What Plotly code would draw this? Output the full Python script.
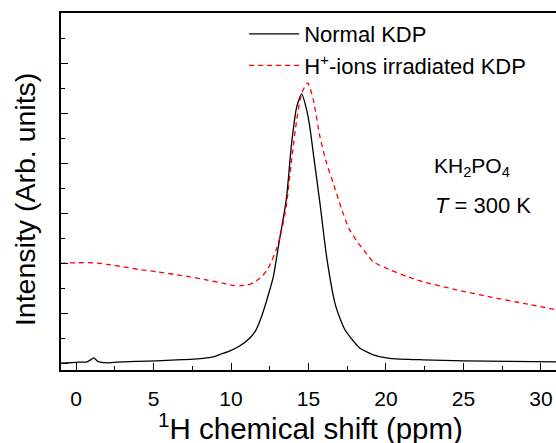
import plotly.graph_objects as go

# Normal KDP (black solid)
x_normal = [-1.0, 0.0, 0.7, 1.0, 1.15, 1.4, 2.0, 3.0, 4.0, 5.2, 6.5, 7.35, 8.2, 8.86, 9.3, 9.94,
            10.58, 11.2, 11.6, 11.87, 12.2, 12.5, 12.73, 12.95, 13.16, 13.4, 13.59, 13.91, 14.24,
            14.56, 14.88, 15.1, 15.31, 15.74, 16.17, 16.71, 17.03, 17.35, 17.68, 18.1, 18.32,
            19.18, 20.26, 22.4, 25.0, 28.0, 31.0]
y_normal = [0.0, 0.02, 0.03, 0.08, 0.11, 0.04, 0.01, 0.03, 0.04, 0.05, 0.07, 0.08, 0.10, 0.13, 0.18, 0.25,
            0.35, 0.5, 0.66, 0.85, 1.15, 1.47, 1.73, 2.13, 2.53, 2.95, 3.33, 4.4, 5.13,
            5.39, 5.07, 4.7, 4.2, 3.2, 2.13, 1.2, 0.9, 0.67, 0.53, 0.37, 0.30,
            0.17, 0.10, 0.07, 0.05, 0.04, 0.03]

# H+-ions irradiated KDP (red dashed)
x_irr = [-0.97, 0.0, 1.12, 2.0, 3.05, 4.0, 5.2, 6.3, 7.35, 8.4, 9.5, 10.1, 10.58, 11.1, 11.5, 12.0,
         12.4, 12.95, 13.3, 13.59, 13.91, 14.24, 14.56, 14.95, 15.31, 15.74, 16.17, 16.6, 17.1,
         17.6, 18.1, 18.6, 19.18, 20.26, 21.3, 22.4, 24.56, 26.7, 28.86, 30.97]
y_irr = [2.0, 2.01, 2.01, 1.98, 1.93, 1.88, 1.83, 1.78, 1.73, 1.67, 1.6, 1.56, 1.55, 1.57, 1.62, 1.74,
         1.9, 2.3, 2.7, 3.2, 4.07, 4.87, 5.4, 5.61, 5.27, 4.53, 4.0, 3.6, 3.12,
         2.7, 2.45, 2.25, 2.03, 1.87, 1.74, 1.63, 1.47, 1.33, 1.2, 1.07]

x_ticks = [0, 5, 10, 15, 20, 25, 30]
series_names = ["Normal KDP", "H<sup>+</sup>-ions irradiated KDP"]

FONT = "Arial, Liberation Sans, sans-serif"

fig = go.Figure()
fig.add_trace(go.Scatter(x=x_normal, y=y_normal, mode="lines", name=series_names[0],
                         legendgroup="a",
                         line=dict(color="black", width=1.3, shape="spline", smoothing=0.6)))
fig.add_trace(go.Scatter(x=x_irr, y=y_irr, mode="lines", name=series_names[1],
                         legendgroup="b",
                         line=dict(color="#ff0000", width=1.3, dash="5px,4px", shape="spline", smoothing=0.6)))

fig.update_layout(
    width=556, height=443,
    margin=dict(l=61, r=0, t=13, b=73),
    paper_bgcolor="white", plot_bgcolor="white",
    font=dict(family=FONT, color="black"),
    showlegend=True,
    legend=dict(x=0.37, y=1.0, xanchor="left", yanchor="top",
                bgcolor="rgba(0,0,0,0)", font=dict(size=22, family=FONT),
                itemwidth=50, tracegroupgap=0, traceorder="grouped"),
    xaxis=dict(range=[-0.97, 30.97], tickvals=x_ticks, ticktext=[str(v) for v in x_ticks],
               ticks="inside", ticklen=7, tickwidth=1.3, tickcolor="black",
               minor=dict(dtick=2.5, tick0=0, ticks="inside", ticklen=4, tickwidth=1.3, tickcolor="black"),
               showline=True, linecolor="black", linewidth=1.5, mirror=True,
               showgrid=False, zeroline=False, ticklabelstandoff=9,
               tickfont=dict(size=21, family=FONT)),
    yaxis=dict(range=[-0.134, 7.006], tick0=0, dtick=1, showticklabels=False,
               ticks="inside", ticklen=7, tickwidth=1.3, tickcolor="black",
               minor=dict(dtick=0.5, tick0=0, ticks="inside", ticklen=4, tickwidth=1.3, tickcolor="black"),
               showline=True, linecolor="black", linewidth=1.8, mirror=False,
               showgrid=False, zeroline=False),
    annotations=[
        dict(text="<sup>1</sup>H chemical shift (ppm)", xref="paper", yref="paper",
             x=(310 - 61) / 495, y=-0.157, xanchor="center", yanchor="middle", showarrow=False,
             font=dict(size=29.5, family=FONT)),
        dict(text="Intensity (Arb. units)", xref="paper", yref="paper",
             x=-0.0727, y=0.476, xanchor="center", yanchor="middle", showarrow=False,
             textangle=-90, font=dict(size=28.5, family=FONT)),
        dict(text="KH<sub>2</sub>PO<sub>4</sub>", xref="paper", yref="paper",
             x=0.75, y=0.568, xanchor="left", yanchor="middle", showarrow=False,
             font=dict(size=21, family=FONT)),
        dict(text="<i>T</i> = 300 K", xref="paper", yref="paper",
             x=0.752, y=0.46, xanchor="left", yanchor="middle", showarrow=False,
             font=dict(size=22, family=FONT)),
    ],
)

fig.write_html("out.html", config={"displayModeBar": False},
               post_script="document.body.style.margin='0';document.body.style.overflow='hidden';")
